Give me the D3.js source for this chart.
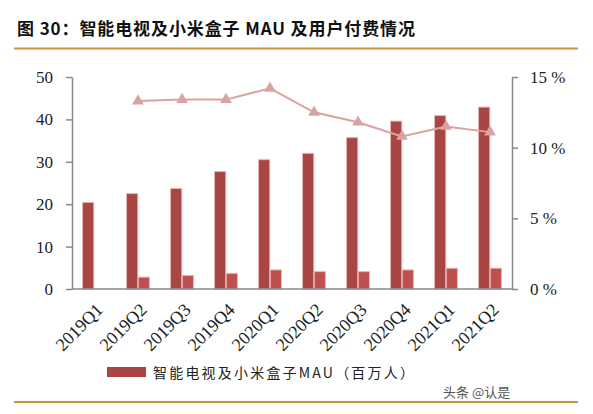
<!DOCTYPE html>
<html><head><meta charset="utf-8">
<script src="https://cdn.jsdelivr.net/npm/d3@7/dist/d3.min.js"></script>
<style>body{margin:0;background:#fff}svg{display:block}
.serif text, text.serif{font-family:"Liberation Serif","Times New Roman","DejaVu Serif",serif !important;}
</style>
</head><body>
<svg id="c" width="593" height="414"></svg>
<script>
const categories = ["2019Q1","2019Q2","2019Q3","2019Q4","2020Q1","2020Q2","2020Q3","2020Q4","2021Q1","2021Q2"];
const mauValues = [20.4, 22.5, 23.7, 27.7, 30.5, 32.0, 35.7, 39.6, 40.9, 42.9];
const payingValues = [null, 2.8, 3.2, 3.7, 4.5, 4.1, 4.1, 4.5, 4.9, 4.9];
const payRateValues = [null, 13.3, 13.4, 13.4, 14.2, 12.5, 11.8, 10.8, 11.5, 11.1];
const leftTicks = [0, 10, 20, 30, 40, 50];
const rightTicks = [0, 5, 10, 15];
const titleText = "图 30：智能电视及小米盒子 MAU 及用户付费情况";
const legendText = "智能电视及小米盒子MAU（百万人）";

const svg = d3.select("#c");
const mLeft = 72, mRight = 512, mTop = 77, mBottom = 289;

// title
svg.append("text").attr("x", 17).attr("y", 35)
  .attr("font-family", "'Noto Sans CJK SC', sans-serif").attr("font-weight", "bold")
  .attr("font-size", 17).attr("letter-spacing", 0.9).attr("fill", "#111").text(titleText);
svg.append("line").attr("x1", 14).attr("x2", 578).attr("y1", 48.5).attr("y2", 48.5)
  .attr("stroke", "#C9943F").attr("stroke-width", 2);
svg.append("line").attr("x1", 14).attr("x2", 578).attr("y1", 402).attr("y2", 402)
  .attr("stroke", "#C9943F").attr("stroke-width", 2);

const x = d3.scaleBand().domain(categories).range([mLeft, mRight]).paddingInner(0).paddingOuter(0);
const yL = d3.scaleLinear().domain([0, 50]).range([mBottom, mTop]);
const yR = d3.scaleLinear().domain([0, 15]).range([mBottom, mTop]);
const sub = d3.scaleBand().domain([0, 1]).range([0, x.bandwidth()]).paddingInner(0.04).paddingOuter(0.9);

// left axis
const gL = svg.append("g").attr("class", "serif").attr("transform", `translate(${mLeft},0)`)
  .call(d3.axisLeft(yL).tickValues(leftTicks).tickSize(6).tickSizeOuter(0).tickPadding(13));
gL.select(".domain").attr("stroke", "#888").attr("stroke-width", 1.5);
gL.selectAll(".tick line").attr("stroke", "#888").attr("stroke-width", 1.5);
gL.selectAll("text").attr("font-size", 17).attr("fill", "#222");

// right axis
const gR = svg.append("g").attr("class", "serif").attr("transform", `translate(${mRight},0)`)
  .call(d3.axisRight(yR).tickValues(rightTicks).tickSize(6).tickSizeOuter(0).tickPadding(12)
    .tickFormat(d => d + " %"));
gR.select(".domain").attr("stroke", "#888").attr("stroke-width", 1.5);
gR.selectAll(".tick line").attr("stroke", "#888").attr("stroke-width", 1.5);
gR.selectAll("text").attr("font-size", 17).attr("fill", "#222");

// bars
const bars = svg.append("g");
bars.selectAll("rect.mau").data(categories).join("rect").attr("class", "mau")
  .attr("x", d => x(d) + sub(0)).attr("width", sub.bandwidth())
  .attr("y", (d, i) => yL(mauValues[i])).attr("height", (d, i) => yL(0) - yL(mauValues[i]))
  .attr("fill", "#A94543").attr("stroke", "#E6B5B4").attr("stroke-width", 1);
bars.selectAll("rect.pay").data(categories.filter((d, i) => payingValues[i] != null)).join("rect").attr("class", "pay")
  .attr("x", d => x(d) + sub(1)).attr("width", sub.bandwidth())
  .attr("y", d => yL(payingValues[categories.indexOf(d)]))
  .attr("height", d => yL(0) - yL(payingValues[categories.indexOf(d)]))
  .attr("fill", "#C0504F").attr("stroke", "#E6B5B4").attr("stroke-width", 1);

// x axis baseline
svg.append("line").attr("x1", mLeft).attr("x2", mRight).attr("y1", mBottom).attr("y2", mBottom)
  .attr("stroke", "#888").attr("stroke-width", 1.5);

// line series
const pts = categories.map((c, i) => ({c, v: payRateValues[i]})).filter(d => d.v != null);
const line = d3.line().x(d => x(d.c) + x.bandwidth() / 2).y(d => yR(d.v));
svg.append("path").datum(pts).attr("d", line).attr("fill", "none")
  .attr("stroke", "#D9A3A2").attr("stroke-width", 2);
svg.selectAll("path.tri").data(pts).join("path").attr("class", "tri")
  .attr("d", d3.symbol().type(d3.symbolTriangle).size(60))
  .attr("transform", d => `translate(${x(d.c) + x.bandwidth() / 2},${yR(d.v)})`)
  .attr("fill", "#D9A3A2");

// x labels
svg.append("g").attr("class", "serif").selectAll("text").data(categories).join("text")
  .attr("transform", d => `translate(${x(d) + x.bandwidth() / 2 + 1},${mBottom + 13}) rotate(-45)`)
  .attr("text-anchor", "end").attr("dy", "0.7em")
  .attr("font-size", 18).attr("fill", "#222").text(d => d);

// legend
svg.append("rect").attr("x", 107).attr("y", 367).attr("width", 39).attr("height", 10).attr("fill", "#A94543");
svg.append("text").attr("x", 153).attr("y", 378).attr("font-family", "'Noto Sans CJK SC', sans-serif")
  .attr("font-size", 14).attr("letter-spacing", 2.2).attr("fill", "#222").text(legendText);

// watermark
svg.append("text").attr("x", 443).attr("y", 397).attr("font-family", "'Noto Sans CJK SC', sans-serif")
  .attr("font-size", 13).attr("fill", "#555").text("头条 @认是");
</script>
</body></html>
